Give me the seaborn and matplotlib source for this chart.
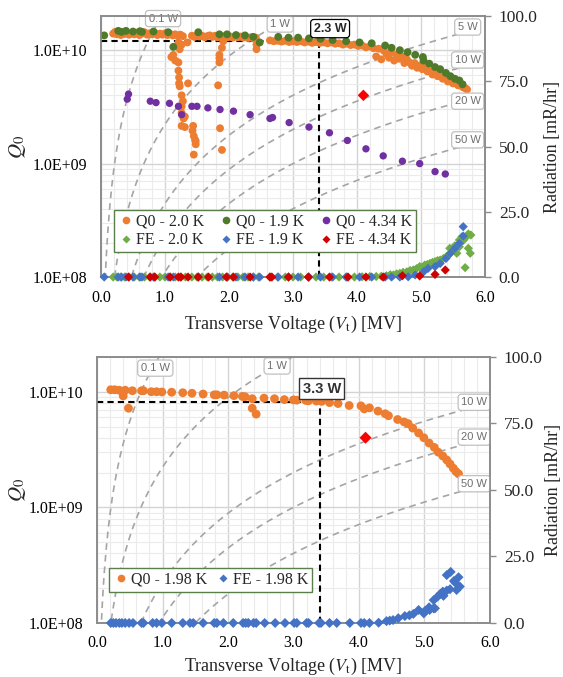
import numpy as np
import pandas as pd
import matplotlib
matplotlib.use('Agg')
import matplotlib.pyplot as plt
import matplotlib.ticker as mticker
from matplotlib.lines import Line2D
import seaborn as sns

sns.set_theme(style='whitegrid')
plt.rcParams['font.family'] = ['Liberation Serif', 'DejaVu Serif']
plt.rcParams['mathtext.fontset'] = 'stix'

# ---------------- TOP PANEL DATA ----------------
q20_v = [0.19, 0.22, 0.25, 0.28, 0.31, 0.34, 0.37, 0.40, 0.44, 0.48, 0.52, 0.56, 0.60, 0.64, 0.68,
         0.72, 0.76, 0.80, 0.84, 0.88, 0.92, 0.96, 1.00, 1.04, 1.08, 1.12, 1.16, 1.20, 1.24, 1.28,
         1.21, 1.26, 1.23, 1.13, 1.10, 1.16, 1.21, 1.21, 1.22, 1.22, 1.23, 1.36, 1.26, 1.28, 1.26,
         1.26, 1.31, 1.29, 1.26, 1.31, 1.44, 1.43, 1.45, 1.47, 1.48, 1.45, 1.35, 1.48,
         1.91, 1.89, 1.85, 1.85, 1.85, 1.83, 1.86, 1.89,
         1.42, 1.46, 1.50, 1.54, 1.58, 1.62, 1.66, 1.70, 1.74, 1.78, 1.82, 1.86, 1.90, 1.94, 1.98,
         2.02, 2.06, 2.10, 2.14, 2.18, 2.22, 2.26, 2.30, 2.34, 2.38, 2.42, 2.43, 2.43,
         2.64, 2.70, 2.76, 2.82, 2.88, 2.94, 3.00, 3.06, 3.12, 3.18, 3.24, 3.30, 3.36, 3.42, 3.48,
         3.54, 3.60, 3.66, 3.72, 3.78, 3.84, 3.90, 3.96, 4.02, 4.08, 4.14, 4.20, 4.26, 4.30, 4.34,
         4.38, 4.42, 4.46, 4.50, 4.54, 4.58, 4.62, 4.66, 4.70, 4.74, 4.78, 4.82, 4.86, 4.90, 4.94,
         4.98, 5.02, 5.06, 5.10, 5.14, 5.18, 5.22, 5.26, 5.30, 5.34, 5.38, 5.42, 5.46, 5.50, 5.54,
         5.58, 5.62, 5.66, 5.70, 5.72]
q20_q = [1.40e10, 1.45e10, 1.38e10, 1.43e10, 1.36e10, 1.42e10, 1.39e10, 1.44e10, 1.37e10, 1.41e10,
         1.38e10, 1.43e10, 1.36e10, 1.40e10, 1.44e10, 1.37e10, 1.41e10, 1.38e10, 1.42e10, 1.36e10,
         1.40e10, 1.37e10, 1.41e10, 1.36e10, 1.39e10, 1.35e10, 1.38e10, 1.34e10, 1.37e10, 1.33e10,
         1.17e10, 1.12e10, 1.02e10, 9.1e9, 8.7e9, 8.1e9, 7.8e9, 6.6e9, 5.75e9, 5.1e9, 4.8e9, 5.1e9,
         4.0e9, 3.55e9, 3.2e9, 2.8e9, 2.6e9, 2.5e9, 2.15e9, 2.1e9, 2.15e9, 1.95e9, 1.75e9, 1.62e9,
         1.48e9, 1.2e9, 1.17e10, 1.58e9,
         1.2e10, 1.05e10, 9.1e9, 8.5e9, 7.8e9, 4.9e9, 2.05e9, 1.32e9,
         1.34e10, 1.31e10, 1.35e10, 1.32e10, 1.34e10, 1.30e10, 1.33e10, 1.35e10, 1.31e10, 1.34e10,
         1.30e10, 1.33e10, 1.31e10, 1.34e10, 1.30e10, 1.32e10, 1.29e10, 1.33e10, 1.30e10, 1.32e10,
         1.29e10, 1.31e10, 1.28e10, 1.30e10, 1.27e10, 1.29e10, 1.12e10, 1.02e10,
         1.22e10, 1.20e10, 1.21e10, 1.19e10, 1.21e10, 1.18e10, 1.20e10, 1.18e10, 1.20e10, 1.17e10,
         1.19e10, 1.16e10, 1.18e10, 1.16e10, 1.17e10, 1.15e10, 1.17e10, 1.14e10, 1.15e10, 1.12e10,
         1.14e10, 1.11e10, 1.12e10, 1.09e10, 1.10e10, 1.06e10, 1.08e10, 1.04e10, 8.8e9, 1.03e10,
         8.3e9, 9.9e9, 9.3e9, 8.6e9, 9.6e9, 8.1e9, 9.1e9, 8.4e9, 8.8e9, 7.7e9,
         8.3e9, 7.8e9, 7.3e9, 7.7e9, 7.0e9, 7.3e9, 6.8e9, 7.0e9, 6.5e9, 6.5e9,
         6.1e9, 6.2e9, 5.9e9, 6.0e9, 5.6e9, 5.7e9, 5.3e9, 5.4e9, 5.1e9, 5.1e9,
         4.9e9, 4.9e9, 4.7e9, 4.6e9, 4.5e9]

q19_v = [0.05, 0.27, 0.32, 0.39, 0.50, 0.61, 0.64, 0.82, 1.05, 1.13, 1.52, 1.85, 1.97, 2.11, 2.25,
         2.38, 2.48, 2.77, 2.93, 3.08, 3.25, 3.43, 3.62, 3.83, 4.04, 4.23, 4.44, 4.54, 4.67, 4.79,
         4.91, 5.03, 5.04, 5.13, 5.22, 5.30, 5.39, 5.46, 5.53, 5.60, 5.65]
q19_q = [1.35e10, 1.48e10, 1.45e10, 1.48e10, 1.46e10, 1.47e10, 1.45e10, 1.46e10, 1.44e10, 1.07e10,
         1.44e10, 1.38e10, 1.38e10, 1.36e10, 1.35e10, 1.31e10, 1.17e10, 1.31e10, 1.29e10, 1.29e10,
         1.27e10, 1.26e10, 1.23e10, 1.20e10, 1.17e10, 1.15e10, 1.10e10, 1.05e10, 1.0e10, 9.6e9,
         9.1e9, 8.7e9, 8.1e9, 7.6e9, 7.1e9, 6.8e9, 6.3e9, 5.9e9, 5.6e9, 5.4e9, 5.0e9]

q434_v = [0.43, 0.41, 0.77, 0.86, 1.07, 1.21, 1.26, 1.42, 1.50, 1.67, 1.86, 2.07, 2.33, 2.64, 2.68,
          2.94, 3.25, 3.57, 3.85, 4.14, 4.41, 4.71, 4.98, 5.22, 5.38]
q434_q = [4.1e9, 3.7e9, 3.55e9, 3.45e9, 3.4e9, 3.2e9, 2.7e9, 3.2e9, 3.2e9, 3.1e9, 3.0e9, 2.9e9,
          2.7e9, 2.5e9, 2.55e9, 2.3e9, 2.1e9, 1.87e9, 1.6e9, 1.35e9, 1.17e9, 1.05e9, 1.0e9, 8.5e8, 8.1e8]

fe20_v = [0.19, 0.25, 0.31, 0.37, 0.44, 0.52, 0.60, 0.68, 0.76, 0.84, 0.92, 1.00, 1.08, 1.16, 1.24,
          1.32, 1.42, 1.50, 1.58, 1.66, 1.74, 1.82, 1.90, 1.98, 2.06, 2.14, 2.22, 2.30, 2.38, 2.46,
          2.64, 2.76, 2.88, 3.00, 3.12, 3.24, 3.36, 3.48, 3.60, 3.72, 3.84, 3.96, 4.08, 4.20, 4.30,
          4.38, 4.46, 4.52, 4.57, 4.62, 4.67, 4.72, 4.78, 4.83, 4.88, 4.93, 4.98, 5.02, 5.06, 5.10,
          5.14, 5.18, 5.22, 5.26, 5.30, 5.35, 5.40, 5.43, 5.45, 5.50, 5.53, 5.56, 5.60, 5.60, 5.64,
          5.66, 5.71, 5.74, 5.78, 5.74, 5.77, 5.69]
fe20_r = [0, 0, 0, 0, 0, 0, 0, 0, 0, 0, 0, 0, 0, 0, 0,
          0, 0, 0, 0, 0, 0, 0, 0, 0, 0, 0, 0, 0, 0, 0,
          0, 0, 0, 0, 0, 0, 0, 0, 0, 0, 0, 0, 0.1, 0.2, 0.2,
          0.3, 0.5, 0.9, 0.8, 1.2, 1.4, 1.8, 2.0, 2.5, 2.7, 3.2, 4.0, 3.8, 4.6, 4.8,
          5.2, 5.6, 5.9, 6.3, 6.5, 7.1, 7.9, 8.4, 11.0, 10.3, 12.0, 9.1, 11.6, 14.2, 15.4,
          14.0, 15.4, 16.5, 16.1, 11.0, 9.1, 3.6]

fe19_v = [0.05, 0.27, 0.32, 0.39, 0.50, 0.61, 0.64, 0.82, 1.05, 1.13, 1.52, 1.85, 1.97, 2.11, 2.25,
          2.38, 2.48, 2.77, 2.93, 3.08, 3.25, 3.43, 3.62, 3.83, 4.04, 4.23, 4.44, 4.54, 4.67, 4.80,
          4.91, 5.04, 5.11, 5.22, 5.30, 5.39, 5.46, 5.53, 5.60, 5.66, 5.66]
fe19_r = [0, 0, 0, 0, 0, 0, 0, 0, 0, 0, 0, 0, 0, 0, 0,
          0, 0, 0, 0, 0, 0, 0, 0, 0, 0, 0, 0, 0, 0, 0.1,
          0.8, 2.0, 3.3, 4.0, 5.2, 7.1, 9.1, 11.0, 12.9, 15.7, 19.3]

fe434_v = [0.43, 0.77, 0.84, 1.08, 1.21, 1.25, 1.36, 1.52, 1.68, 1.96, 2.07, 2.33, 2.64, 2.67, 2.93,
           3.24, 3.57, 3.86, 4.14, 4.41, 4.71, 4.98, 5.22, 5.38]
fe434_r = [0, 0, 0, 0, 0, 0, 0, 0, 0, 0, 0, 0, 0, 0, 0,
           0, 0, 0, 0, 0, 0.5, 0.4, 1.0, 2.7]

# ---------------- BOTTOM PANEL DATA ----------------
q198_v = [0.21, 0.27, 0.34, 0.40, 0.43, 0.48, 0.54, 0.68, 0.71, 0.83, 0.91, 0.99, 1.14, 1.31, 1.45,
          1.62, 1.79, 1.83, 1.94, 2.09, 2.22, 2.26, 2.37, 2.37, 2.43, 2.55, 2.71, 2.86, 3.00, 3.05,
          3.19, 3.23, 3.35, 3.43, 3.55, 3.68, 3.85, 4.03, 4.08, 4.16, 4.29, 4.40, 4.45, 4.59, 4.69,
          4.75, 4.82, 4.91, 4.99, 5.07, 5.15, 5.21, 5.28, 5.34, 5.39, 5.44, 5.48, 5.52]
q198_q = [1.04e10, 1.04e10, 1.03e10, 9.2e9, 1.03e10, 7.2e9, 1.02e10, 1.02e10, 1.02e10, 1.0e10,
          1.0e10, 9.95e9, 9.9e9, 9.8e9, 9.7e9, 9.55e9, 9.4e9, 9.4e9, 9.35e9, 9.25e9,
          9.1e9, 9.05e9, 8.7e9, 7.2e9, 6.4e9, 8.8e9, 8.7e9, 8.55e9, 8.5e9, 8.45e9,
          8.4e9, 8.35e9, 8.3e9, 8.25e9, 8.05e9, 7.9e9, 7.6e9, 7.55e9, 7.1e9, 7.25e9,
          6.8e9, 6.45e9, 6.2e9, 5.75e9, 5.47e9, 5.3e9, 4.85e9, 4.4e9, 4.0e9, 3.6e9,
          3.3e9, 3.0e9, 2.78e9, 2.57e9, 2.37e9, 2.18e9, 2.04e9, 1.95e9]

fe198_v = [0.21, 0.25, 0.29, 0.34, 0.38, 0.43, 0.49, 0.55, 0.68, 0.71, 0.85, 0.91, 0.99, 1.14, 1.31,
           1.42, 1.47, 1.62, 1.79, 1.83, 1.93, 2.08, 2.23, 2.27, 2.31, 2.39, 2.43, 2.56, 2.72, 2.87,
           3.01, 3.05, 3.20, 3.23, 3.39, 3.42, 3.55, 3.66, 3.86, 4.03, 4.08, 4.16,
           4.30, 4.42, 4.47, 4.52, 4.60, 4.70, 4.77, 4.83, 4.91, 4.99, 5.01, 5.07, 5.08, 5.14, 5.16,
           5.14, 5.20, 5.24, 5.28, 5.29, 5.34, 5.39, 5.34, 5.40, 5.45, 5.47, 5.49, 5.52, 5.54]
fe198_r = [0, 0, 0, 0, 0, 0, 0, 0, 0, 0, 0, 0, 0, 0, 0,
           0, 0, 0, 0, 0, 0, 0, 0, 0, 0, 0, 0, 0, 0, 0,
           0, 0, 0, 0, 0, 0, 0, 0, 0, 0, 0, 0,
           0.1, 0.7, 0.9, 1.1, 1.8, 2.6, 2.9, 3.4, 4.9, 3.6, 4.6, 5.9, 4.9, 5.5, 5.5,
           8.6, 9.9, 10.9, 11.8, 10.2, 12.2, 12.7, 18.0, 19.2, 15.8, 15.2, 12.4, 17.2, 13.7]

# reference values
spec_point_v = [4.1]
spec_point_q = [4.0e9]
op_voltage = 3.4
op_q_top = 1.2e10
op_q_bottom = 8.2e9
op_label_top = '2.3 W'
op_label_bottom = '3.3 W'
rq_ohm = 450.0
powers_top = [0.1, 1, 5, 10, 20, 50]
powers_bottom = [0.1, 1, 10, 20, 50]

C_OR = '#ED7D31'
C_DG = '#4F7A2A'
C_PU = '#7030A0'
C_LG = '#70AD47'
C_BL = '#4472C4'
C_RD = '#D00000'
GRAY = '#8c8c8c'

fig = plt.figure(figsize=(5.63, 6.77), dpi=100)
fig.patch.set_facecolor('white')
axT = fig.add_axes([0.1794, 0.5908, 0.682, 0.3855])
axB = fig.add_axes([0.1723, 0.0798, 0.698, 0.393])
axTr = axT.twinx()
axBr = axB.twinx()


def style(ax, axr, lab_x, rlab_x, xlab_y):
    ax.set_yscale('log')
    ax.set_xlim(0, 6)
    ax.set_ylim(1e8, 2e10)
    ax.xaxis.set_major_locator(mticker.MultipleLocator(1))
    ax.xaxis.set_minor_locator(mticker.MultipleLocator(0.2))
    ax.xaxis.set_major_formatter(mticker.FormatStrFormatter('%.1f'))
    ax.yaxis.set_major_locator(mticker.LogLocator(base=10))
    ax.yaxis.set_minor_locator(mticker.LogLocator(base=10, subs=np.arange(2, 10)))
    ax.yaxis.set_major_formatter(mticker.FuncFormatter(lambda v, p: f'{v:.1E}'))
    ax.yaxis.set_minor_formatter(mticker.NullFormatter())
    ax.grid(which='major', color='#d4d4d4', lw=1.0)
    ax.grid(which='minor', color='#ebebeb', lw=0.8)
    ax.set_axisbelow(True)
    ax.tick_params(axis='both', which='both', length=0, labelsize=11.5, colors='black')
    ax.tick_params(axis='y', pad=10)
    ax.tick_params(axis='x', pad=9)
    axr.set_ylim(0, 100)
    axr.yaxis.set_major_locator(mticker.MultipleLocator(25))
    axr.yaxis.set_major_formatter(mticker.FormatStrFormatter('%.1f'))
    axr.grid(False)
    axr.tick_params(axis='y', length=4, width=1, color=GRAY, direction='out', labelsize=12.5, pad=6)
    for a in (ax, axr):
        for s in a.spines.values():
            s.set_color(GRAY)
            s.set_linewidth(1.2)
    ax.set_ylabel(r'$Q_0$', fontsize=15)
    ax.yaxis.set_label_coords(lab_x, 0.5)
    axr.set_ylabel('Radiation [mR/hr]', fontsize=13)
    axr.yaxis.set_label_coords(rlab_x, 0.5)
    ax.set_xlabel(r'Transverse Voltage ($V_{\mathrm{t}}$) [MV]', fontsize=13)
    ax.xaxis.set_label_coords(0.5, xlab_y)


style(axT, axTr, -0.19, 1.155, -0.14)
style(axB, axBr, -0.175, 1.14, -0.125)

vgrid = np.linspace(0.02, 6.0, 400)


def power_curves(ax, powers):
    for p in powers:
        qline = (vgrid * 1e6) ** 2 / (rq_ohm * p)
        sns.lineplot(x=vgrid, y=qline, ax=ax, color='#a5a5a5', lw=1.2,
                     linestyle=(0, (4, 3)), zorder=1)


power_curves(axT, powers_top)
power_curves(axB, powers_bottom)

box_kw = dict(boxstyle='round,pad=0.28', fc='white', ec='#c0c0c0', lw=0.9)


def plabel(ax, x, y, txt):
    ax.text(x, y, txt, fontsize=8, color='#6f6f6f', family=['Liberation Sans', 'DejaVu Sans'],
            ha='center', va='center', bbox=box_kw, zorder=6, clip_on=False)


plabel(axT, 0.97, 1.9e10, '0.1 W')
plabel(axT, 2.80, 1.7e10, '1 W')
plabel(axT, 5.73, 1.6e10, '5 W')
plabel(axT, 5.73, 8.2e9, '10 W')
plabel(axT, 5.73, 3.55e9, '20 W')
plabel(axT, 5.73, 1.62e9, '50 W')

plabel(axB, 0.89, 1.6e10, '0.1 W')
plabel(axB, 2.75, 1.67e10, '1 W')
plabel(axB, 5.76, 8.1e9, '10 W')
plabel(axB, 5.76, 4.05e9, '20 W')
plabel(axB, 5.76, 1.6e9, '50 W')

# operating point lines
for ax, qop in ((axT, op_q_top), (axB, op_q_bottom)):
    ax.plot([0, op_voltage], [qop, qop], color='black', lw=1.5, ls=(0, (3, 2)), zorder=3)
    ax.plot([op_voltage, op_voltage], [1e8, qop], color='black', lw=1.5, ls=(0, (3, 2)), zorder=3)

axT.text(3.58, 1.55e10, op_label_top, fontsize=9, fontweight='bold', family=['Liberation Sans', 'DejaVu Sans'],
         ha='center', va='center', zorder=7,
         bbox=dict(boxstyle='round,pad=0.25', fc='white', ec='black', lw=0.9))
axB.text(3.43, 1.06e10, op_label_bottom, fontsize=10.5, fontweight='bold', family=['Liberation Sans', 'DejaVu Sans'],
         color='#333333', ha='center', va='center', zorder=7,
         bbox=dict(boxstyle='square,pad=0.25', fc='white', ec='#333333', lw=1.0))

# scatter data
S_C = 32
S_D = 22
sns.scatterplot(x=q20_v, y=q20_q, ax=axT, color=C_OR, s=S_C, edgecolor='none', zorder=4)
sns.scatterplot(x=q19_v, y=q19_q, ax=axT, color=C_DG, s=S_C, edgecolor='none', zorder=5)
sns.scatterplot(x=q434_v, y=q434_q, ax=axT, color=C_PU, s=S_C - 4, edgecolor='none', zorder=5)
sns.scatterplot(x=spec_point_v, y=spec_point_q, ax=axT, color='#FF0000', marker='D', s=34,
                edgecolor='none', zorder=6)

sns.scatterplot(x=fe20_v, y=fe20_r, ax=axTr, color=C_LG, marker='D', s=S_D, edgecolor='none', zorder=4, clip_on=False)
sns.scatterplot(x=fe19_v, y=fe19_r, ax=axTr, color=C_BL, marker='D', s=S_D, edgecolor='none', zorder=5, clip_on=False)
sns.scatterplot(x=fe434_v, y=fe434_r, ax=axTr, color=C_RD, marker='D', s=S_D, edgecolor='none', zorder=6, clip_on=False)

sns.scatterplot(x=q198_v, y=q198_q, ax=axB, color=C_OR, s=40, edgecolor='none', zorder=4)
sns.scatterplot(x=spec_point_v, y=spec_point_q, ax=axB, color='#FF0000', marker='D', s=38,
                edgecolor='none', zorder=6)
sns.scatterplot(x=fe198_v, y=fe198_r, ax=axBr, color=C_BL, marker='D', s=26, edgecolor='none', zorder=5, clip_on=False)

for a in (axTr, axBr):
    a.set_xlim(0, 6)
    a.set_ylim(0, 100)


def h(color, marker, ms):
    return Line2D([], [], ls='none', marker=marker, color=color, markeredgecolor='none', markersize=ms)


handles_top = [h(C_OR, 'o', 5.5), h(C_LG, 'D', 4.5), h(C_DG, 'o', 5.5), h(C_BL, 'D', 4.5),
               h(C_PU, 'o', 5.5), h(C_RD, 'D', 4.5)]
labels_top = ['Q0 - 2.0 K', 'FE - 2.0 K', 'Q0 - 1.9 K', 'FE - 1.9 K', 'Q0 - 4.34 K', 'FE - 4.34 K']
legT = axTr.legend(handles_top, labels_top, ncol=3, loc='upper left', bbox_to_anchor=(0.034, 0.257),
                   fontsize=11.5, frameon=True, fancybox=False, framealpha=1, edgecolor='#5b7f4a',
                   handletextpad=0.1, columnspacing=0.9, borderpad=0.25, labelspacing=0.15,
                   handlelength=1.0, borderaxespad=0)
legT.get_frame().set_linewidth(1.0)
legT.set_zorder(10)

handles_bot = [h(C_OR, 'o', 5.5), h(C_BL, 'D', 4.5)]
labels_bot = ['Q0 - 1.98 K', 'FE - 1.98 K']
legB = axBr.legend(handles_bot, labels_bot, ncol=2, loc='upper left', bbox_to_anchor=(0.031, 0.207),
                   fontsize=11.5, frameon=True, fancybox=False, framealpha=1, edgecolor='#5b7f4a',
                   handletextpad=0.1, columnspacing=0.5, borderpad=0.25,
                   handlelength=1.0, borderaxespad=0)
legB.get_frame().set_linewidth(1.0)
legB.set_zorder(10)

fig.savefig('out.png', dpi=100, facecolor='white')
